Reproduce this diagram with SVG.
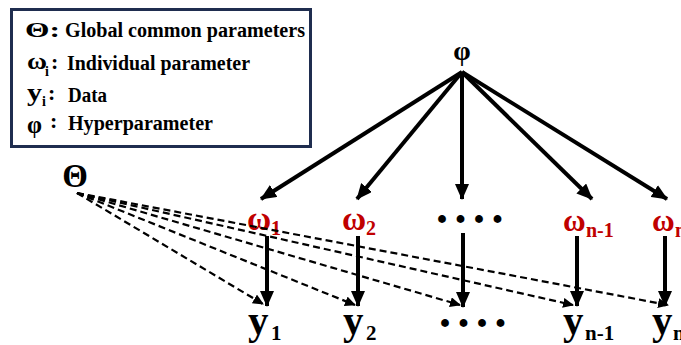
<svg xmlns="http://www.w3.org/2000/svg" width="681" height="345" viewBox="0 0 681 345">
<style>
text{font-weight:bold;fill:#000}
.red{fill:#C00000}
.solid{stroke:#000;stroke-width:4;fill:none}
.dash{stroke:#000;stroke-width:2.2;fill:none;stroke-dasharray:7 4}
</style>
<defs>
<marker id="ah" viewBox="0 0 16 14" refX="15" refY="7" markerWidth="16" markerHeight="14" markerUnits="userSpaceOnUse" orient="auto">
<path d="M0,0 L16,7 L0,14 z" fill="#000"/>
</marker>
<marker id="ahs" viewBox="0 0 11 10" refX="10" refY="5" markerWidth="11" markerHeight="10" markerUnits="userSpaceOnUse" orient="auto">
<path d="M0,0 L11,5 L0,10 z" fill="#000"/>
</marker>
</defs>
<rect width="681" height="345" fill="#fff"/>
<g font-family="Liberation Serif, DejaVu Serif, serif">
<g id="legend">
<rect x="11.5" y="9.5" width="299" height="137" fill="#fff" stroke="#1F2D4F" stroke-width="3"/>
<text x="25" y="37" font-size="22" textLength="35" lengthAdjust="spacingAndGlyphs">Θ:</text>
<text x="65" y="37" font-size="20" textLength="240" lengthAdjust="spacingAndGlyphs">Global common parameters</text>
<text x="27" y="69" font-size="24" textLength="20" lengthAdjust="spacingAndGlyphs">ω</text>
<text x="45" y="76" font-size="14">i</text>
<text x="51" y="69" font-size="22">:</text>
<text x="67" y="70" font-size="20" textLength="183" lengthAdjust="spacingAndGlyphs">Individual parameter</text>
<text x="27" y="101" font-size="26" textLength="15" lengthAdjust="spacingAndGlyphs">y</text>
<text x="42" y="106" font-size="14">i</text>
<text x="48" y="100" font-size="22">:</text>
<text x="68" y="102" font-size="20" textLength="39" lengthAdjust="spacingAndGlyphs">Data</text>
<text x="27" y="133" font-size="26" textLength="15" lengthAdjust="spacingAndGlyphs">φ</text>
<text x="50" y="128" font-size="22">:</text>
<text x="68" y="130" font-size="20" textLength="145" lengthAdjust="spacingAndGlyphs">Hyperparameter</text>
</g>
<g id="phi"><text x="462" y="60" font-size="28" text-anchor="middle">φ</text></g>
<g id="theta"><text x="75" y="187" font-size="33" text-anchor="middle">Θ</text></g>
<g id="omega1"><text x="247" y="230" font-size="33" class="red">ω</text><text x="271" y="235" font-size="20" class="red">1</text></g>
<g id="omega2"><text x="342" y="230" font-size="33" class="red">ω</text><text x="366" y="235" font-size="20" class="red">2</text></g>
<g id="omegadots"><text x="434" y="235" font-size="48" letter-spacing="2.5">····</text></g>
<g id="omegan1"><text x="563" y="231" font-size="31" class="red">ω</text><text x="586" y="237" font-size="20" class="red">n-1</text></g>
<g id="omegan"><text x="652" y="231" font-size="31" class="red">ω</text><text x="675" y="237" font-size="20" class="red">n</text></g>
<g id="y1"><text x="248" y="334" font-size="41">y</text><text x="271" y="340" font-size="21">1</text></g>
<g id="y2"><text x="343" y="334" font-size="41">y</text><text x="366" y="340" font-size="21">2</text></g>
<g id="ydots"><text x="437" y="339" font-size="48" letter-spacing="2.5">····</text></g>
<g id="yn1"><text x="563" y="334" font-size="41">y</text><text x="585" y="340" font-size="21">n-1</text></g>
<g id="yn"><text x="652" y="334" font-size="41">y</text><text x="673" y="340" font-size="21">n</text></g>
</g>
<g id="connectors">
<line class="solid" x1="462" y1="72" x2="261" y2="199" marker-end="url(#ah)"/>
<line class="solid" x1="462" y1="72" x2="357" y2="199" marker-end="url(#ah)"/>
<line class="solid" x1="462" y1="72" x2="462" y2="199" marker-end="url(#ah)"/>
<line class="solid" x1="462" y1="72" x2="592" y2="199" marker-end="url(#ah)"/>
<line class="solid" x1="462" y1="72" x2="667" y2="199" marker-end="url(#ah)"/>
<line class="solid" x1="267" y1="236" x2="267" y2="306" marker-end="url(#ah)"/>
<line class="solid" x1="358" y1="236" x2="358" y2="306" marker-end="url(#ah)"/>
<line class="solid" x1="463" y1="233" x2="463" y2="307" marker-end="url(#ah)"/>
<line class="solid" x1="577" y1="236" x2="577" y2="306" marker-end="url(#ah)"/>
<line class="solid" x1="665" y1="236" x2="665" y2="306" marker-end="url(#ah)"/>
<line class="dash" x1="77" y1="193" x2="263" y2="304" marker-end="url(#ahs)"/>
<line class="dash" x1="77" y1="193" x2="355" y2="305" marker-end="url(#ahs)"/>
<line class="dash" x1="77" y1="193" x2="460" y2="305" marker-end="url(#ahs)"/>
<line class="dash" x1="77" y1="193" x2="573" y2="305" marker-end="url(#ahs)"/>
<line class="dash" x1="77" y1="193" x2="668" y2="305" marker-end="url(#ahs)"/>
</g>
</svg>
